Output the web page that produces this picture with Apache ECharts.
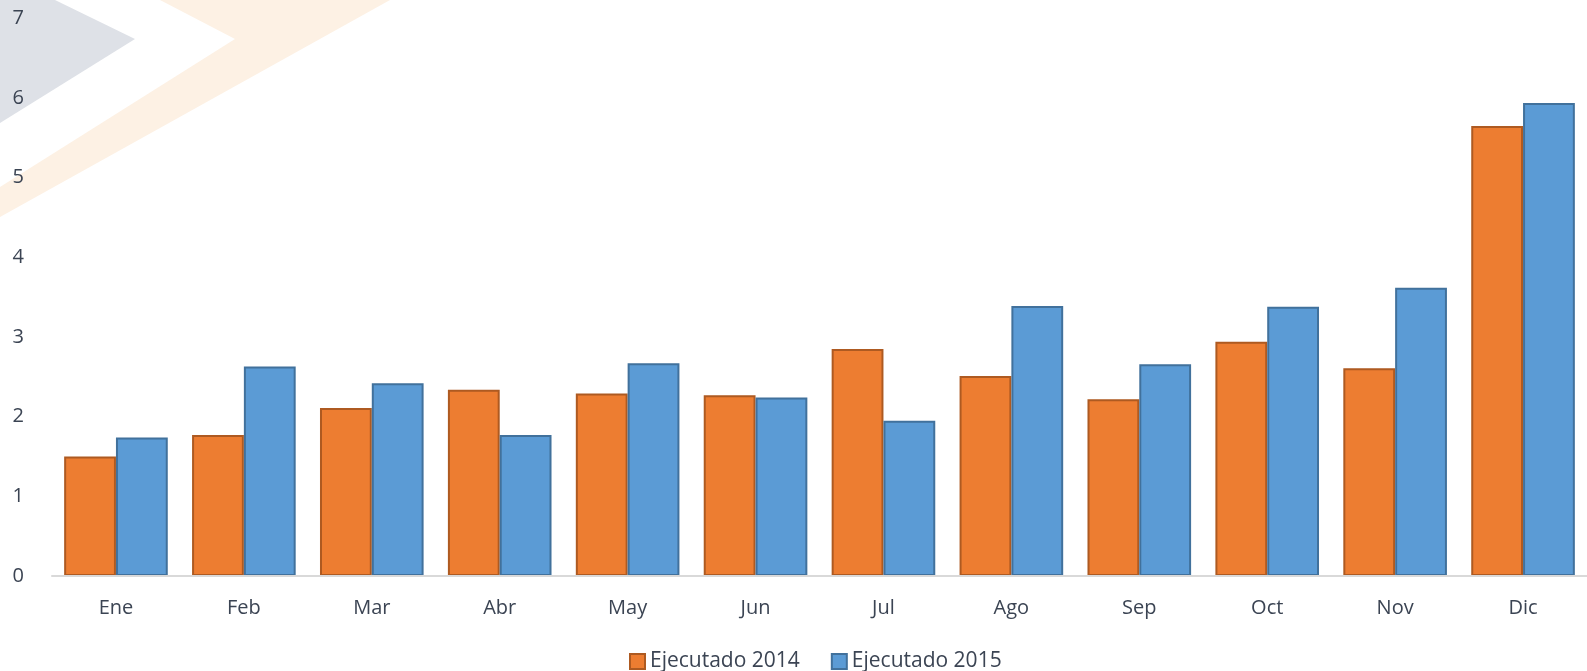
<!DOCTYPE html>
<html>
<head>
<meta charset="utf-8">
<script src="https://cdn.jsdelivr.net/npm/echarts@6/dist/echarts.min.js"></script>
<style>
  html, body { margin: 0; padding: 0; background: #ffffff; }
  #chart { width: 1587px; height: 671px; }
</style>
</head>
<body>
<div id="chart"></div>
<script>
// Monthly executed amounts, 2014 vs 2015
const months = ['Ene', 'Feb', 'Mar', 'Abr', 'May', 'Jun', 'Jul', 'Ago', 'Sep', 'Oct', 'Nov', 'Dic'];
const ejecutado2014 = [1.50, 1.77, 2.11, 2.34, 2.29, 2.27, 2.85, 2.51, 2.22, 2.94, 2.61, 5.65];
const ejecutado2015 = [1.74, 2.63, 2.42, 1.77, 2.67, 2.24, 1.95, 3.39, 2.66, 3.38, 3.62, 5.94];
const yTicks = [0, 1, 2, 3, 4, 5, 6, 7];

const textColor = '#3B4453';
const fontFamily = '"Open Sans", "Noto Sans", sans-serif';

const chart = echarts.init(document.getElementById('chart'), null, { renderer: 'canvas' });

chart.setOption({
  backgroundColor: '#ffffff',
  animation: false,
  // decorative chevrons in the top-left corner
  graphic: [
    {
      type: 'polygon', z: -10, silent: true,
      shape: { points: [[0, 0], [55, 0], [135, 39], [0, 123]] },
      style: { fill: '#DEE1E7' }
    },
    {
      type: 'polygon', z: -10, silent: true,
      shape: { points: [[160, 0], [390, 0], [0, 217], [0, 187], [235, 39]] },
      style: { fill: '#FDF1E4' }
    }
  ],
  grid: { left: 52, right: -10, top: 18.5, bottom: 95, containLabel: false },
  legend: {
    data: ['Ejecutado 2014', 'Ejecutado 2015'],
    icon: 'rect',
    left: 624,
    top: 646,
    itemWidth: 15,
    itemHeight: 15,
    itemGap: 31,
    textStyle: { color: textColor, fontSize: 21, fontFamily: fontFamily }
  },
  xAxis: {
    type: 'category',
    data: months,
    z: 3,
    axisLine: { show: true, lineStyle: { color: '#D9D9D9', width: 2 } },
    axisTick: { show: false },
    axisLabel: { color: textColor, fontSize: 20, fontFamily: fontFamily, margin: 22 },
    splitLine: { show: false }
  },
  yAxis: {
    type: 'value',
    min: yTicks[0],
    max: yTicks[yTicks.length - 1],
    interval: 1,
    axisLine: { show: false },
    axisTick: { show: false },
    splitLine: { show: false },
    axisLabel: { color: textColor, fontSize: 20, fontFamily: fontFamily, margin: 28 }
  },
  series: [
    {
      name: 'Ejecutado 2014',
      type: 'bar',
      data: ejecutado2014,
      barGap: '0%',
      barCategoryGap: '19%',
      itemStyle: { color: '#ED7D31', borderColor: '#AE5A21', borderWidth: 2 }
    },
    {
      name: 'Ejecutado 2015',
      type: 'bar',
      data: ejecutado2015,
      barGap: '0%',
      barCategoryGap: '19%',
      itemStyle: { color: '#5B9BD5', borderColor: '#41719C', borderWidth: 2 }
    }
  ]
});
</script>
</body>
</html>
